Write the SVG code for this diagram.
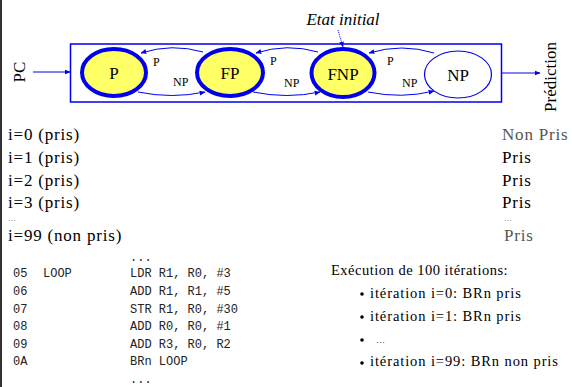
<svg xmlns="http://www.w3.org/2000/svg" width="572" height="387" viewBox="0 0 572 387">
  <style>
    .serif { font-family: "Liberation Serif", "Times New Roman", serif; fill: #000; }
    .mono { font-family: "Liberation Mono", "Courier New", monospace; font-size: 12px; fill: #222; }
    .state { fill: #ffff66; stroke: #0000ee; stroke-width: 4; }
    .state-thin { fill: #fff; stroke: #0000ee; stroke-width: 1.2; }
    .lbl { font-family: "Liberation Serif", "Times New Roman", serif; font-size: 17px; text-anchor: middle; }
    .edge { fill: none; stroke: #0000ee; stroke-width: 1; marker-end: url(#ah); }
    .small { font-family: "Liberation Serif", "Times New Roman", serif; font-size: 12px; }
    .row { font-family: "Liberation Serif", "Times New Roman", serif; font-size: 17px; letter-spacing: 0.8px; }
    .dots { font-family: "Liberation Serif", "Times New Roman", serif; font-size: 8px; fill: #444; }
    .gray { fill: #555; }
    .item { font-size: 14.5px; letter-spacing: 0.9px; }
  </style>
  <defs>
    <marker id="ah" viewBox="0 0 10 10" refX="9" refY="5" markerWidth="6" markerHeight="6" orient="auto">
      <path d="M0,1 L10,5 L0,9 z" fill="#0000ee"/>
    </marker>
  </defs>
  <rect width="572" height="387" fill="#fff"/>
  <line x1="1" y1="0" x2="1" y2="387" stroke="#333" stroke-width="2"/>

  <!-- automaton frame -->
  <rect x="70.5" y="44" width="431" height="58" fill="none" stroke="#0000ee" stroke-width="1.5"/>

  <!-- connectors -->
  <g id="connectors">
    <line class="edge" x1="33" y1="72" x2="70" y2="72"/>
    <line class="edge" x1="502" y1="73" x2="540" y2="73"/>
    <line class="edge" x1="338" y1="30" x2="343" y2="47" stroke-dasharray="1 1"/>
    <!-- P <-> FP -->
    <path class="edge" d="M203,52 Q172,43 141,53"/>
    <path class="edge" d="M138,92 Q172,99 205,92"/>
    <!-- FP <-> FNP -->
    <path class="edge" d="M318,52 Q287,43 256,53"/>
    <path class="edge" d="M253,92 Q287,99 320,92"/>
    <!-- FNP <-> NP -->
    <path class="edge" d="M434,53 Q402,43 369,53"/>
    <path class="edge" d="M368,92 Q402,99 434,91"/>
    <text class="small" x="153" y="66">P</text>
    <text class="small" x="173" y="86">NP</text>
    <text class="small" x="270" y="65">P</text>
    <text class="small" x="284" y="87">NP</text>
    <text class="small" x="387" y="65">P</text>
    <text class="small" x="402" y="87">NP</text>
  </g>

  <g id="state-P">
    <ellipse class="state" cx="114" cy="72.5" rx="32" ry="23.5"/>
    <text class="lbl" x="114" y="79">P</text>
  </g>
  <g id="state-FP">
    <ellipse class="state" cx="230" cy="72.5" rx="33" ry="23.5"/>
    <text class="lbl" x="230" y="79">FP</text>
  </g>
  <g id="state-FNP">
    <ellipse class="state" cx="343" cy="73" rx="31.5" ry="24"/>
    <text class="lbl" x="343" y="79.5">FNP</text>
  </g>
  <g id="state-NP">
    <ellipse class="state-thin" cx="458" cy="74.5" rx="33.5" ry="23.5"/>
    <text class="lbl" x="458" y="81">NP</text>
  </g>

  <text class="serif" x="343" y="25" font-size="17" font-style="italic" text-anchor="middle">Etat initial</text>
  <text class="serif" transform="translate(25,72) rotate(-90)" font-size="17" text-anchor="middle">PC</text>
  <text class="serif" transform="translate(556,77) rotate(-90)" font-size="17" text-anchor="middle">Prédiction</text>

  <!-- outcomes / predictions -->
  <text class="row" x="8" y="140">i=0 (pris)</text>
  <text class="row" x="8" y="163">i=1 (pris)</text>
  <text class="row" x="8" y="186">i=2 (pris)</text>
  <text class="row" x="8" y="208">i=3 (pris)</text>
  <text class="dots" x="8" y="221">…</text>
  <text class="row" x="8" y="241">i=99 (non pris)</text>

  <text class="row gray" x="502" y="140">Non Pris</text>
  <text class="row" x="502" y="163">Pris</text>
  <text class="row" x="502" y="186">Pris</text>
  <text class="row" x="502" y="208">Pris</text>
  <text class="dots" x="504" y="221">…</text>
  <text class="row gray" x="504" y="241">Pris</text>

  <!-- assembly listing -->
  <text class="mono" x="130" y="261">...</text>
  <text class="mono" x="13" y="277">05</text><text class="mono" x="43" y="277">LOOP</text><text class="mono" x="130" y="277">LDR R1, R0, #3</text>
  <text class="mono" x="13" y="295">06</text><text class="mono" x="130" y="295">ADD R1, R1, #5</text>
  <text class="mono" x="13" y="313">07</text><text class="mono" x="130" y="313">STR R1, R0, #30</text>
  <text class="mono" x="13" y="330">08</text><text class="mono" x="130" y="330">ADD R0, R0, #1</text>
  <text class="mono" x="13" y="348">09</text><text class="mono" x="130" y="348">ADD R3, R0, R2</text>
  <text class="mono" x="13" y="365">0A</text><text class="mono" x="130" y="365">BRn LOOP</text>
  <text class="mono" x="130" y="383">...</text>

  <!-- execution notes -->
  <text class="serif" x="331" y="275" font-size="14.5" letter-spacing="0.5">Exécution de 100 itérations:</text>
  <g class="serif">
    <circle cx="362" cy="294" r="1.8" fill="#000"/>
    <text class="item" x="370" y="298">itération i=0: BRn pris</text>
    <circle cx="362" cy="317" r="1.8" fill="#000"/>
    <text class="item" x="370" y="321">itération i=1: BRn pris</text>
    <circle cx="362" cy="340" r="1.8" fill="#000"/>
    <text x="376" y="343" font-size="9">…</text>
    <circle cx="362" cy="363" r="1.8" fill="#000"/>
    <text class="item" x="370" y="366">itération i=99: BRn non pris</text>
  </g>
</svg>
